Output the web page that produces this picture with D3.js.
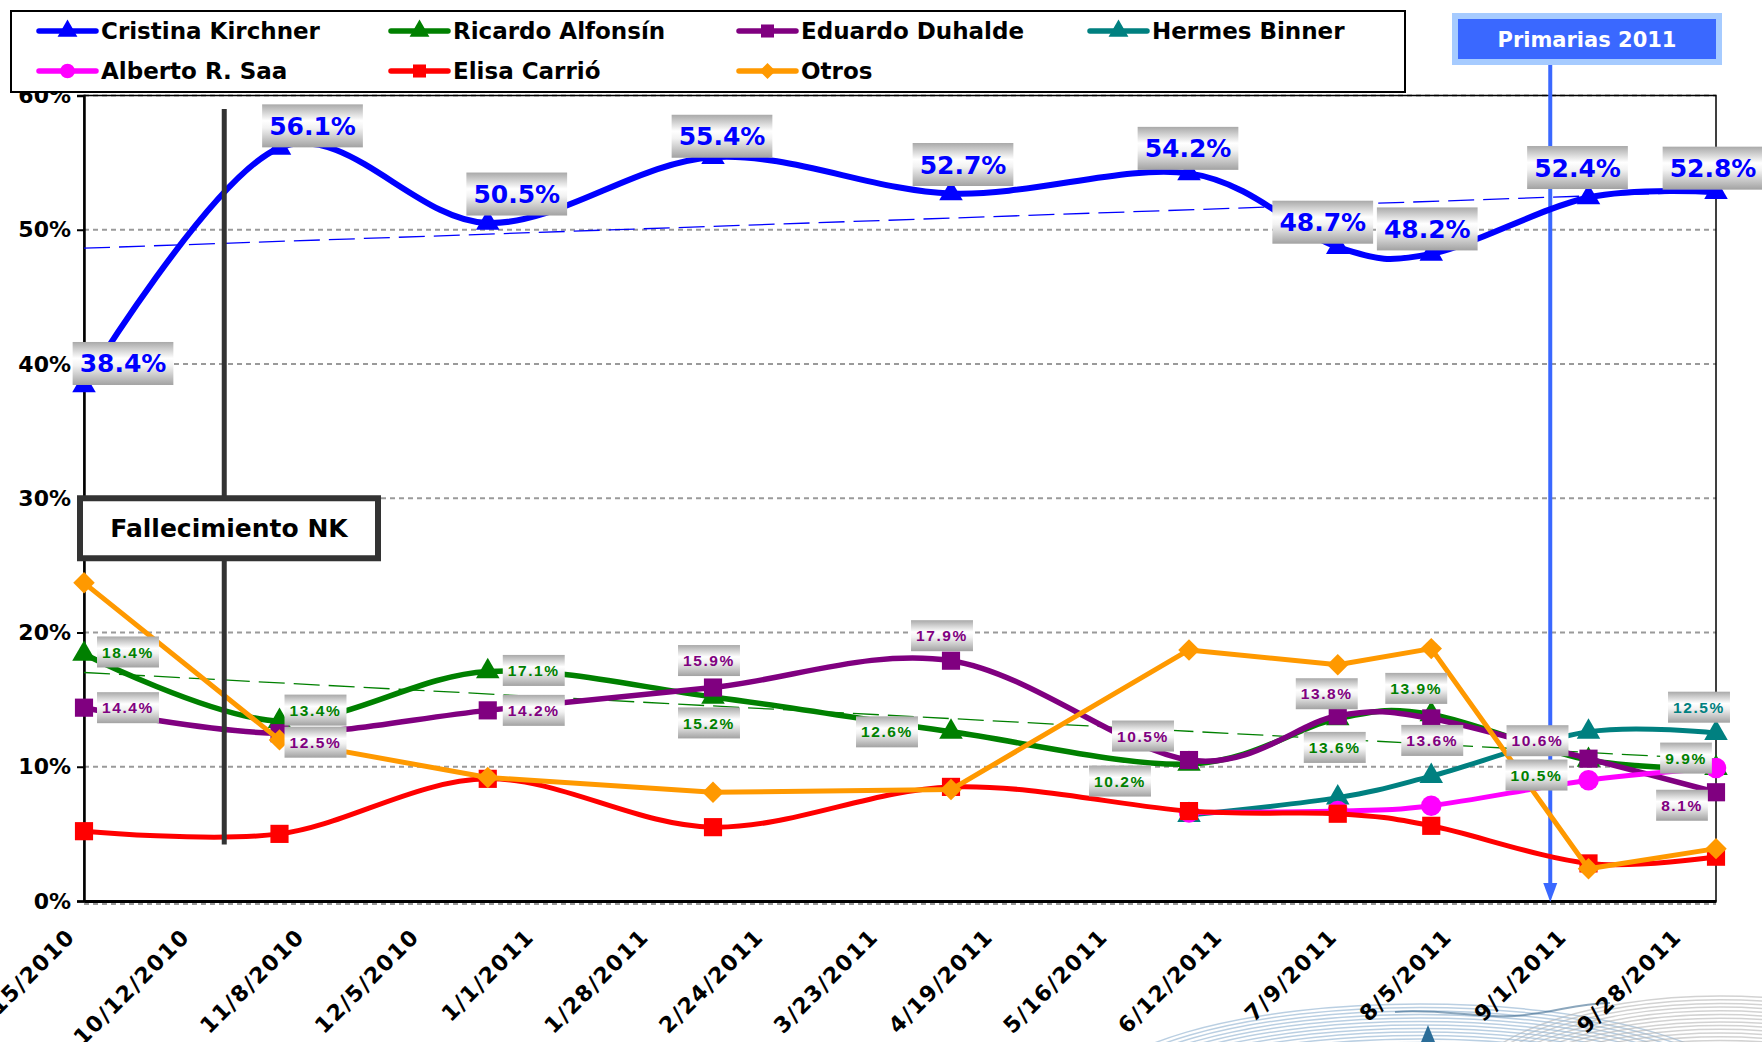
<!DOCTYPE html>
<html>
<head>
<meta charset="utf-8">
<script src="https://cdn.jsdelivr.net/npm/d3@7"></script>
<style>
  body { margin: 0; background: #fff; }
  svg { display: block; font-family: "DejaVu Sans", Verdana, sans-serif; }
</style>
</head>
<body>
<svg id="chart" width="1762" height="1042"></svg>
<script>
// ---- data ----
var dates    = ["2010-09-15", "2010-10-31", "2010-12-19", "2011-02-10", "2011-04-07",
                "2011-06-02", "2011-07-07", "2011-07-29", "2011-09-04", "2011-10-04"];
var kirchner = [38.4, 56.1, 50.5, 55.4, 52.7, 54.2, 48.7, 48.2, 52.4, 52.8];
var alfonsin = [18.4, 13.4, 17.1, 15.2, 12.6, 10.2, 13.6, 13.9, 10.5, 9.9];
var duhalde  = [14.4, 12.5, 14.2, 15.9, 17.9, 10.5, 13.8, 13.6, 10.6, 8.1];
var binner   = [null, null, null, null, null, 6.4, 7.7, 9.3, 12.6, 12.5];
var saa      = [null, null, null, null, null, 6.6, 6.7, 7.1, 9.0, 9.9];
var carrio   = [5.2, 5.0, 9.1, 5.5, 8.5, 6.7, 6.5, 5.6, 2.8, 3.3];
var otros    = [23.7, 12.0, 9.2, 8.1, 8.3, 18.7, 17.6, 18.8, 2.4, 3.9];

var names = ["Cristina Kirchner", "Ricardo Alfonsín", "Eduardo Duhalde", "Hermes Binner",
             "Alberto R. Saa", "Elisa Carrió", "Otros"];
var tickLabels = ["9/15/2010", "10/12/2010", "11/8/2010", "12/5/2010", "1/1/2011", "1/28/2011",
                  "2/24/2011", "3/23/2011", "4/19/2011", "5/16/2011", "6/12/2011", "7/9/2011",
                  "8/5/2011", "9/1/2011", "9/28/2011"];
var yTicks = [0, 10, 20, 30, 40, 50, 60];

// annotations
var nkDate = "2010-10-18";        // Fallecimiento NK
var primariasDate = "2011-08-26"; // Primarias 2011

// ---- styles / layout ----
var colors  = ["#0000ff", "#008000", "#800080", "#008080", "#ff00ff", "#ff0000", "#ff9900"];
var symbols = [d3.symbolTriangle, d3.symbolTriangle, d3.symbolSquare, d3.symbolTriangle,
               d3.symbolCircle, d3.symbolSquare, "diamond"];
var smooth  = [true, true, true, true, true, true, false];
var widths  = [6, 5.5, 5.5, 5, 5, 5, 5];

// label offsets from the point (px), index matches the data
var kirchnerLbl = [[39,-22],[33,-22],[29,-29],[9,-21],[12,-29],[-1,-25],[-15,-25],[-4,-25],[-11,-30],[-3,-24]];
var alfonsinLbl = [[44,-2],[36,-11],[46,-1],[-4,26],[-64,0],[-69,17],[-3,29],[-15,-26],[-52,15],[-30,-10]];
var duhaldeLbl  = [[44,0],[36,9],[46,0],[-4,-27],[-9,-25],[-46,-24],[-11,-22],[1,22],[-51,-18],[-34,13]];

var canvas = d3.select("#chart"),
    width = +canvas.attr("width"),
    height = +canvas.attr("height");

var parseDate = d3.timeParse("%Y-%m-%d"),
    parseTick = d3.timeParse("%m/%d/%Y");
var when = dates.map(parseDate);

// Set the ranges
var x = d3.scaleTime().domain([when[0], when[when.length - 1]]).range([84, 1716]);
var y = d3.scaleLinear().domain([0, 60]).range([901, 95.5]);

var defs = canvas.append("defs");
var grad = defs.append("linearGradient").attr("id", "lblGrad")
    .attr("x1", 0).attr("y1", 0).attr("x2", 0).attr("y2", 1);
grad.append("stop").attr("offset", "0%").attr("stop-color", "#a9a9a9");
grad.append("stop").attr("offset", "38%").attr("stop-color", "#ffffff");
grad.append("stop").attr("offset", "55%").attr("stop-color", "#f2f2f2");
grad.append("stop").attr("offset", "100%").attr("stop-color", "#a2a2a2");

// background swoosh of the logo, lower right
var swoosh = canvas.append("g").attr("fill", "none");
d3.range(0, 18).forEach(function(k) {
  swoosh.append("ellipse")
      .attr("cx", 1420).attr("cy", 1100 + k * 1.2)
      .attr("rx", 330 - k * 5).attr("ry", 96 - k * 2.3)
      .attr("stroke", "#9dbad6").attr("stroke-opacity", 0.7).attr("stroke-width", 1.5);
  swoosh.append("ellipse")
      .attr("cx", 1720).attr("cy", 1100 + k * 1.2)
      .attr("rx", 260 - k * 4).attr("ry", 104 - k * 2.5)
      .attr("stroke", "#b4b4b4").attr("stroke-opacity", 0.6).attr("stroke-width", 1.5);
});
swoosh.append("path")
    .attr("d", "M1395,1012 C1440,1008 1485,1020 1525,1015 S1575,1004 1610,1003")
    .attr("stroke", "#2d5f86").attr("stroke-width", 2).attr("stroke-opacity", 0.55);
swoosh.append("path").attr("d", "M1421,1042 L1428,1025 L1435,1042 Z")
    .attr("fill", "#2b6d98").attr("stroke", "none");

// gridlines
canvas.append("g").selectAll("line")
    .data(yTicks)
  .enter().append("line")
    .attr("x1", 84).attr("x2", 1716)
    .attr("y1", function(d) { return y(d) + (d === 0 ? 3 : 0); })
    .attr("y2", function(d) { return y(d) + (d === 0 ? 3 : 0); })
    .attr("stroke", "#9a9a9a").attr("stroke-width", 2).attr("stroke-dasharray", "5,4");

// plot frame
canvas.append("rect")
    .attr("x", 84).attr("y", y(60)).attr("width", 1632).attr("height", y(0) - y(60))
    .attr("fill", "none").attr("stroke", "#000").attr("stroke-width", 1.5);

// Add the y Axis
var yAxis = canvas.append("g")
    .attr("transform", "translate(84,0)")
    .call(d3.axisLeft(y).tickValues(yTicks).tickSize(7).tickPadding(6)
          .tickFormat(function(d) { return d + "%"; }));
yAxis.select(".domain").attr("stroke", "#000").attr("stroke-width", 2.5);
yAxis.selectAll("line").attr("stroke", "#000").attr("stroke-width", 2);
yAxis.selectAll("text")
    .attr("font-family", "DejaVu Sans").attr("font-weight", "bold")
    .attr("font-size", 22).attr("fill", "#000");

// Add the x Axis
var xAxis = canvas.append("g")
    .attr("transform", "translate(0," + y(0) + ")")
    .call(d3.axisBottom(x).tickValues(tickLabels.map(parseTick)).tickSize(0)
          .tickFormat(d3.timeFormat("%-m/%-d/%Y")));
xAxis.select(".domain").attr("stroke", "#000").attr("stroke-width", 3);
xAxis.selectAll("text")
    .attr("y", 0).attr("dy", 0).attr("x", 0)
    .attr("transform", "translate(-8,37) rotate(-45)")
    .style("text-anchor", "end")
    .attr("font-family", "DejaVu Sans").attr("font-weight", "bold")
    .attr("font-size", 22).attr("letter-spacing", 1.5).attr("fill", "#000");

// linear trend lines (least squares on days)
function trend(vals) {
  var pts = [];
  vals.forEach(function(v, i) { if (v != null) pts.push([(when[i] - when[0]) / 864e5, v]); });
  var mx = d3.mean(pts, function(p) { return p[0]; }),
      my = d3.mean(pts, function(p) { return p[1]; });
  var sxy = d3.sum(pts, function(p) { return (p[0] - mx) * (p[1] - my); }),
      sxx = d3.sum(pts, function(p) { return (p[0] - mx) * (p[0] - mx); });
  var b = sxy / sxx, a = my - b * mx;
  var last = (when[when.length - 1] - when[0]) / 864e5;
  return [[when[0], a], [when[when.length - 1], a + b * last]];
}
[[kirchner, "#0000ff"], [alfonsin, "#008000"]].forEach(function(t) {
  var tl = trend(t[0]);
  canvas.append("line")
      .attr("x1", x(tl[0][0])).attr("y1", y(tl[0][1]))
      .attr("x2", x(tl[1][0])).attr("y2", y(tl[1][1]))
      .attr("stroke", t[1]).attr("stroke-width", 1.3).attr("stroke-dasharray", "26,9");
});

// Primarias arrow line
var px = x(parseDate(primariasDate));
canvas.append("line")
    .attr("x1", px).attr("x2", px).attr("y1", 60).attr("y2", y(0) - 14)
    .attr("stroke", "#3a68ff").attr("stroke-width", 4);
canvas.append("path")
    .attr("d", "M" + (px - 7) + "," + (y(0) - 18) + "L" + (px + 7) + "," + (y(0) - 18) + "L" + px + "," + (y(0) + 1) + "Z")
    .attr("fill", "#3a68ff");

// series
var valuesList = [kirchner, alfonsin, duhalde, binner, saa, carrio, otros];

valuesList.forEach(function(vals, i) {
  var line = d3.line()
      .defined(function(d) { return d != null; })
      .x(function(d, j) { return x(when[j]); })
      .y(function(d) { return y(d); })
      .curve(smooth[i] ? d3.curveCatmullRom.alpha(0) : d3.curveLinear);

  var g = canvas.append("g");
  g.append("path")
      .attr("d", line(vals))
      .attr("fill", "none").attr("stroke", colors[i])
      .attr("stroke-width", widths[i]).attr("stroke-linejoin", "round");

  var size = symbols[i] === d3.symbolTriangle ? 240 : 330;
  vals.forEach(function(v, j) {
    if (v == null) return;
    var m = g.append("g").attr("transform", "translate(" + x(when[j]) + "," + y(v) + ")");
    if (symbols[i] === "diamond") {
      m.append("path").attr("d", d3.symbol().type(d3.symbolSquare).size(230)())
          .attr("transform", "rotate(45)").attr("fill", colors[i]);
    } else {
      m.append("path").attr("d", d3.symbol().type(symbols[i]).size(size)())
          .attr("fill", colors[i]);
    }
  });
});

// Fallecimiento NK line and box
var nx = x(parseDate(nkDate));
canvas.append("line")
    .attr("x1", nx).attr("x2", nx).attr("y1", y(59)).attr("y2", y(4.2))
    .attr("stroke", "#333").attr("stroke-width", 5);
canvas.append("rect")
    .attr("x", 80).attr("y", y(30)).attr("width", 298).attr("height", 60)
    .attr("fill", "#fff").attr("stroke", "#333").attr("stroke-width", 6);
canvas.append("text")
    .attr("x", 229).attr("y", y(30) + 30).attr("dy", "0.36em")
    .attr("text-anchor", "middle")
    .attr("font-weight", "bold").attr("font-size", 25).attr("fill", "#000")
    .text("Fallecimiento NK");

// data labels
function labels(vals, offs, color, big) {
  vals.forEach(function(v, j) {
    if (v == null || !offs[j]) return;
    var cx = x(when[j]) + offs[j][0], cy = y(v) + offs[j][1];
    var g = canvas.append("g");
    var r = g.append("rect");
    var t = g.append("text")
        .attr("x", cx).attr("y", cy).attr("dy", "0.36em")
        .attr("text-anchor", "middle")
        .attr("font-family", big ? "DejaVu Sans" : "Liberation Sans")
        .attr("font-weight", "bold")
        .attr("font-size", big ? 25 : 15.5)
        .attr("letter-spacing", big ? 0 : 1.6)
        .attr("fill", color)
        .text(v.toFixed(1) + "%");
    var w = t.node().getComputedTextLength() + (big ? 14 : 10), h = big ? 43 : 31;
    r.attr("x", cx - w / 2).attr("y", cy - h / 2).attr("width", w).attr("height", h)
        .attr("fill", "url(#lblGrad)");
  });
}
labels(kirchner, kirchnerLbl, "#0000ff", true);
labels(alfonsin, alfonsinLbl, "#008000", false);
labels(duhalde, duhaldeLbl, "#800080", false);
labels(binner, [null, null, null, null, null, null, null, null, null, [-17, -26]], "#008080", false);

// Primarias box
canvas.append("rect")
    .attr("x", 1455).attr("y", 16).attr("width", 264).attr("height", 46)
    .attr("fill", "#3a68ff").attr("stroke", "#a6cbff").attr("stroke-width", 6);
canvas.append("text")
    .attr("x", 1587).attr("y", 39).attr("dy", "0.36em")
    .attr("text-anchor", "middle")
    .attr("font-weight", "bold").attr("font-size", 21).attr("fill", "#fff")
    .text("Primarias 2011");

// legend
var legend = canvas.append("g");
legend.append("rect")
    .attr("x", 11).attr("y", 11).attr("width", 1394).attr("height", 81)
    .attr("fill", "#fff").attr("stroke", "#000").attr("stroke-width", 2);
var legendX = [39, 391, 739, 1090], legendY = [31, 71];
names.forEach(function(n, i) {
  var lx = legendX[i % 4], ly = legendY[Math.floor(i / 4)];
  var item = legend.append("g").attr("transform", "translate(" + lx + "," + ly + ")");
  item.append("line").attr("x1", 0).attr("x2", 57).attr("y1", 0).attr("y2", 0)
      .attr("stroke", colors[i]).attr("stroke-width", 5.5).attr("stroke-linecap", "round");
  if (symbols[i] === "diamond") {
    item.append("path").attr("d", d3.symbol().type(d3.symbolSquare).size(130)())
        .attr("transform", "translate(28.5,0) rotate(45)").attr("fill", colors[i]);
  } else {
    item.append("path").attr("d", d3.symbol().type(symbols[i]).size(170)())
        .attr("transform", "translate(28.5,0)").attr("fill", colors[i]);
  }
  item.append("text")
      .attr("x", 62).attr("y", 0).attr("dy", "0.36em")
      .attr("font-weight", "bold").attr("font-size", 23).attr("fill", "#000")
      .text(n);
});
</script>
</body>
</html>
